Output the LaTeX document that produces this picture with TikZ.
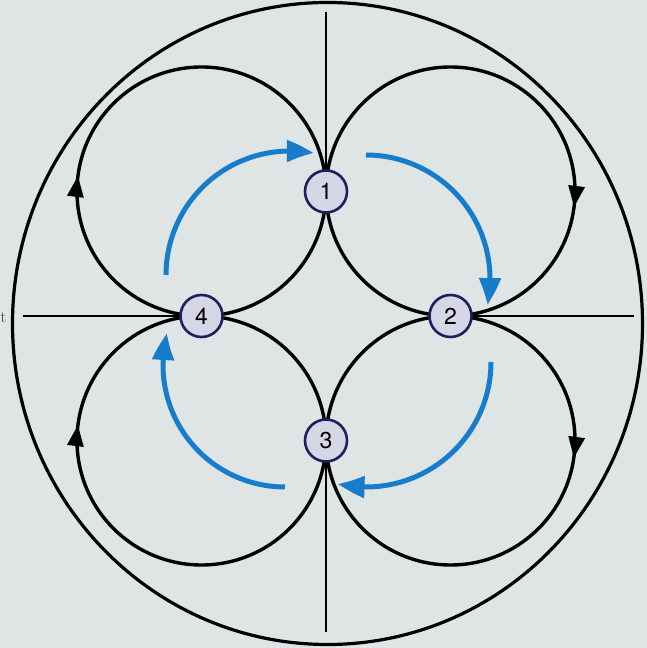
\documentclass[tikz,border=0pt]{standalone}
\usepackage{fontspec}
\setsansfont{TeX Gyre Heros}
\usetikzlibrary{arrows.meta,decorations.markings,backgrounds,bending,calc}
\definecolor{bg}{RGB}{223,229,228}
\definecolor{flowblue}{RGB}{24,124,204}
\definecolor{nodefill}{RGB}{214,215,230}
\definecolor{nodeedge}{RGB}{28,32,92}
\begin{document}
\begin{tikzpicture}[x=1pt,y=1pt,
  pt/.style={circle, draw=nodeedge, fill=nodefill, line width=2.6pt, minimum size=42pt, inner sep=0pt, font=\sffamily\fontsize{23}{23}\selectfont},
  lobe/.style={line width=3.4pt, draw=black},
  axisline/.style={line width=2.4pt, draw=black},
  rim/.style={line width=3.2pt, draw=black},
  flow/.style={line width=5pt, draw=flowblue, -{Triangle[length=27pt,width=21pt,bend]}},
  tipat/.style={postaction={decorate}, decoration={markings, mark=at position #1 with {\arrow{Triangle[length=21pt,width=16pt]}}}}
]
\useasboundingbox (0,0) rectangle (647,648);
% points
\node[pt] (n1) at (326,456.5) {1};
\node[pt] (n2) at (450.5,332) {2};
\node[pt] (n3) at (326,207.5) {3};
\node[pt] (n4) at (201.5,332) {4};
\node[anchor=west, inner sep=0pt, font=\fontsize{16}{16}\selectfont, text=black!80] (tfrag) at (0.5,330) {t};
% axis ends
\coordinate (top) at (326,636);
\coordinate (bot) at (326,16);
\coordinate (lft) at (23,332);
\coordinate (rgt) at (634,332);
% blue arc centres
\coordinate (b1) at (290,373);
\coordinate (b2) at (366,369);
\coordinate (b3) at (366,286);
\coordinate (b4) at (285,283);
\begin{pgfonlayer}{background}
\fill[bg] (0,0) rectangle (647,648);
\draw[rim] (327.5,324.5) ellipse[x radius=315, y radius=321];
\draw[axisline] (top) -- (n1.center);
\draw[axisline] (n3.center) -- (bot);
\draw[axisline] (lft) -- (n4.center);
\draw[axisline] (n2.center) -- (rgt);
% top-left lobe
\draw[lobe, tipat=0.36] (n4.center) arc[start angle=270, end angle=0, radius=124.5];
\draw[lobe] (n1.center) arc[start angle=0, end angle=-90, radius=124.5];
% top-right lobe
\draw[lobe, tipat=0.693] (n1.center) arc[start angle=180, end angle=-90, radius=124.5];
\draw[lobe] (n2.center) arc[start angle=270, end angle=180, radius=124.5];
% bottom-right lobe
\draw[lobe, tipat=0.363] (n2.center) arc[start angle=90, end angle=-180, radius=124.5];
\draw[lobe] (n3.center) arc[start angle=180, end angle=90, radius=124.5];
% bottom-left lobe
\draw[lobe, tipat=0.693] (n3.center) arc[start angle=0, end angle=-270, radius=124.5];
\draw[lobe] (n4.center) arc[start angle=90, end angle=0, radius=124.5];
% blue flow arcs
\draw[flow] ($(b1)+(180:124)$) arc[start angle=180, end angle=79, radius=124];
\draw[flow] ($(b2)+(90:124)$) arc[start angle=90, end angle=-12, radius=124];
\draw[flow] ($(b3)+(0:125)$) arc[start angle=0, end angle=-103, radius=125];
\draw[flow] ($(b4)+(-90:122)$) arc[start angle=-90, end angle=-195, radius=122];
\end{pgfonlayer}
\end{tikzpicture}
\end{document}
